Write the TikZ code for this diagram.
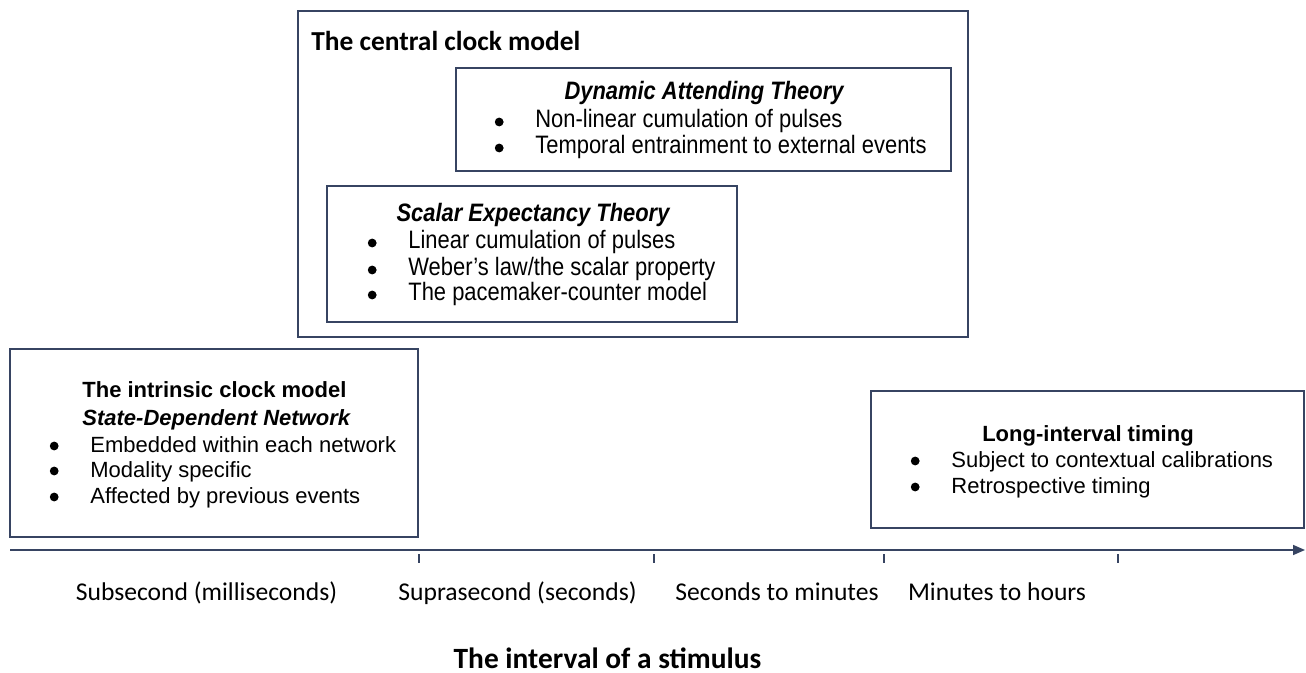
\documentclass[tikz,border=0pt]{standalone}
\usepackage{fontspec}
\usetikzlibrary{arrows.meta}
\newfontfamily\arialfont{Liberation Sans}
\newfontfamily\narrowfont[FakeStretch=0.87]{Liberation Sans}
\newfontfamily\calibrifont{Carlito}
\definecolor{frameblue}{RGB}{55,68,98}
\tikzset{
	frame_box/.style = {
		draw=frameblue,
		line width=1pt
	},
	txt/.style = {
		inner sep=0pt,
		anchor=base west
	},
	bullet_dot/.style = {
		circle,
		fill=black,
		inner sep=0pt,
		minimum size=4.4pt
	},
	item/.style = {
		txt,
		text height=8.2pt,
		text depth=2.2pt,
		label={[bullet_dot, label distance=15.5pt]west:{}}
	},
	item_wide/.style = {
		item,
		font=\arialfont\fontsize{11}{13}\selectfont
	},
	title_wide/.style = {
		txt,
		font=\arialfont\bfseries\fontsize{11}{13}\selectfont
	},
	item_narrow/.style = {
		item,
		font=\narrowfont\fontsize{12.6}{15}\selectfont
	},
	title_narrow/.style = {
		txt,
		anchor=base,
		font=\narrowfont\bfseries\itshape\fontsize{12.6}{15}\selectfont
	},
	axis_label/.style = {
		txt,
		anchor=base,
		font=\calibrifont\fontsize{12.8}{15}\selectfont
	},
	tick/.style = {
		draw=frameblue,
		line width=0.6pt
	},
}

\begin{document}
\begin{tikzpicture}[x=0.5pt,y=-0.5pt]
\useasboundingbox (0,0) rectangle (1306,673);

% central clock model
\draw [frame_box] (298,11) rectangle (968,337);
\node [txt, font=\calibrifont\bfseries\fontsize{13.7}{16}\selectfont] (central_title) at (311,51) {The central clock model};

\draw [frame_box] (456,68) rectangle (951,171);
\node [title_narrow] (dat_title) at (704,100) {Dynamic Attending Theory};
\node [item_narrow] (dat_a) at (535,128) {Non-linear cumulation of pulses};
\node [item_narrow] (dat_b) at (535,154) {Temporal entrainment to external events};

\draw [frame_box] (327,186) rectangle (737,322);
\node [title_narrow] (set_title) at (533,222) {Scalar Expectancy Theory};
\node [item_narrow] (set_a) at (408,249) {Linear cumulation of pulses};
\node [item_narrow] (set_b) at (408,276) {Weber’s law/the scalar property};
\node [item_narrow] (set_c) at (408,301) {The pacemaker-counter model};

% intrinsic clock model
\draw [frame_box] (10,349) rectangle (418,537);
\node [title_wide] (sdn_title) at (82,398) {The intrinsic clock model};
\node [title_wide, font=\arialfont\bfseries\itshape\fontsize{11}{13}\selectfont] (sdn_sub) at (82,425) {State-Dependent Network};
\node [item_wide] (sdn_a) at (90,452) {Embedded within each network};
\node [item_wide] (sdn_b) at (90,477) {Modality specific};
\node [item_wide] (sdn_c) at (90,503) {Affected by previous events};

% long-interval timing
\draw [frame_box] (871,391) rectangle (1304,528);
\node [title_wide, anchor=base] (long_title) at (1088,442) {Long-interval timing};
\node [item_wide] (long_a) at (951,467) {Subject to contextual calibrations};
\node [item_wide] (long_b) at (951,493) {Retrospective timing};

% time axis
\coordinate (axis_start) at (10,550);
\coordinate (axis_end) at (1305,550);
\draw [draw=frameblue, line width=0.8pt, -{Triangle[length=6pt,width=5pt]}] (axis_start) -- (axis_end);
\coordinate (tick_a) at (419,554);
\coordinate (tick_b) at (654,554);
\coordinate (tick_c) at (884,554);
\coordinate (tick_d) at (1118,554);
\draw [tick] (tick_a) -- ++(0,9);
\draw [tick] (tick_b) -- ++(0,9);
\draw [tick] (tick_c) -- ++(0,9);
\draw [tick] (tick_d) -- ++(0,9);

\node [axis_label] (lab_sub) at (206.5,600) {Subsecond (milliseconds)};
\node [axis_label] (lab_supra) at (517.5,600) {Suprasecond (seconds)};
\node [axis_label] (lab_secmin) at (777,600) {Seconds to minutes};
\node [axis_label] (lab_minhr) at (997,600) {Minutes to hours};
\node [axis_label, font=\calibrifont\bfseries\fontsize{14.7}{17}\selectfont] (axis_title) at (607.5,668) {The interval of a stimulus};
\end{tikzpicture}
\end{document}
